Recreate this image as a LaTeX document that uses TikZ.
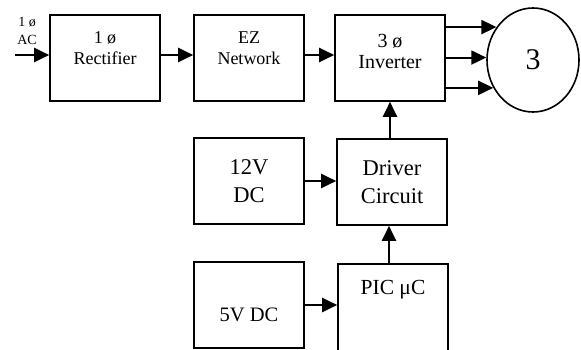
\documentclass[tikz,border=0pt]{standalone}
\usepackage{fontspec}
\setmainfont{Liberation Serif}
\usetikzlibrary{arrows.meta,shapes.geometric}
\begin{document}
\begin{tikzpicture}[x=1pt,y=-1pt]
		\tikzset{blok/.style={draw=black, line width=1.6pt, minimum width=110pt, minimum height=86pt, inner sep=0, align=center, font=\fontsize{18}{21}\selectfont},
		pijl/.style={line width=2pt, -{Triangle[length=15pt,width=14pt]}}}
        \useasboundingbox (0,0) rectangle (581,350);
        \clip (0,0) rectangle (581,350);

        \node[blok] at (105, 58) (rect) {1 ø\\Rectifier\\[-2pt]\mbox{}};
        \node[blok] at (249, 58) (ez) {EZ\\Network\\[-2pt]\mbox{}};
        \node[blok, font=\fontsize{20}{21}\selectfont] at (390, 58) (inv) {3 ø\\Inverter\\[-8pt]\mbox{}};
        \node[draw=black, line width=1.6pt, ellipse, minimum width=92pt, minimum height=104pt, inner sep=0, font=\fontsize{30}{34}\selectfont] at (533, 60) (motor) {\raisebox{-8pt}{3}};

        \node[blok, font=\fontsize{22.5}{28}\selectfont] at (249, 181) (v12) {12V\\DC};
        \node[blok, font=\fontsize{22.5}{28}\selectfont] at (392, 182) (drv) {Driver\\Circuit};

        \node[blok, font=\fontsize{20.5}{21}\selectfont] at (249, 305) (v5) {\mbox{}\\[12pt]5V DC};
        \node[blok, minimum height=106pt, font=\fontsize{21.5}{21}\selectfont] at (393, 317) (pic) {PIC μC\\[38pt]\mbox{}};

        \node[align=center, inner sep=0, font=\fontsize{14}{18}\selectfont] at (27, 31) (ac) {1 ø\\AC};
        \coordinate (in) at (15, 55);

			% power path
			\draw[pijl] (in) -- (in -| rect.west);
			\draw[pijl] ([yshift=3pt]rect.east) -- ([yshift=3pt]ez.west);
			\draw[pijl] ([yshift=3pt]ez.east) -- ([yshift=3pt]inv.west);

			% three phase outputs
			\draw[pijl] (inv.east |- motor.138) -- (motor.138);
			\draw[pijl] (inv.east |- motor.177) -- (motor.177);
			\draw[pijl] (inv.east |- motor.215) -- (motor.215);

			% control path
			\draw[pijl] (inv.south |- drv.north) -- (inv.south);
			\draw[pijl] (v12.east) -- (v12.east -| drv.west);
			\draw[pijl] ([xshift=-4pt]pic.north) -- ([xshift=-4pt]pic.north |- drv.south);
			\draw[pijl] (v5.east) -- (v5.east -| pic.west);

	\end{tikzpicture}
\end{document}
